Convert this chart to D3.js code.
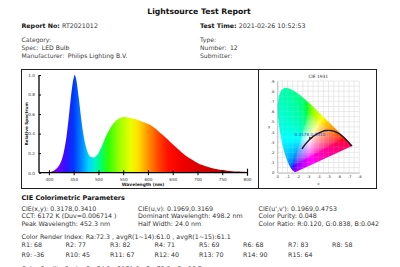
<!DOCTYPE html>
<html>
<head>
<meta charset="utf-8">
<script src="https://cdn.jsdelivr.net/npm/d3@7"></script>
<style>
  body { margin: 0; background: #fff; }
  svg { display: block; font-family: "DejaVu Sans", Verdana, sans-serif; }
</style>
</head>
<body>
<div id="chart"></div>
<script>
// header info
const headerLeft = [["Report No: ", "RT2021012", true], ["Category:", "", false], ["Spec: ", "LED Bulb", false], ["Manufacturer: ", "Philips Lighting B.V.", false]];
const headerRight = [["Test Time: ", "2021-02-26 10:52:53", true], ["Type:", "", false], ["Number: ", "12", false], ["Submitter:", "", false]];

// relative spectrum
const wavelengths = [380, 390, 400, 405, 410, 415, 420, 425, 430, 435, 440, 445, 450, 452, 455, 460, 465, 470, 475, 480, 485, 490, 495, 500, 505, 510, 515, 520, 525, 530, 535, 540, 545, 550, 555, 560, 570, 580, 590, 600, 610, 620, 630, 640, 650, 660, 670, 680, 690, 700, 710, 720, 730, 740, 750, 760, 770, 780, 790, 800];
const spectrum = [0.0, 0.0, 0.004, 0.01, 0.02, 0.04, 0.07, 0.12, 0.21, 0.35, 0.56, 0.8, 0.97, 1.0, 0.96, 0.78, 0.56, 0.38, 0.26, 0.19, 0.16, 0.155, 0.168, 0.2, 0.25, 0.31, 0.37, 0.42, 0.465, 0.5, 0.53, 0.55, 0.563, 0.57, 0.57, 0.566, 0.555, 0.54, 0.52, 0.5, 0.47, 0.43, 0.385, 0.34, 0.29, 0.245, 0.2, 0.16, 0.13, 0.1, 0.078, 0.06, 0.046, 0.035, 0.027, 0.02, 0.016, 0.012, 0.01, 0.008];
const xTicks = [400, 450, 500, 550, 600, 650, 700, 750, 800];
const yTicks = [0, 0.2, 0.4, 0.6, 0.8, 1.0];

// CIE 1931 spectral locus (x, y)
const locusX = [0.1741, 0.1714, 0.1644, 0.1566, 0.1440, 0.1241, 0.1096, 0.0913, 0.0687, 0.0454, 0.0235, 0.0082, 0.0039, 0.0139, 0.0389, 0.0743, 0.1142, 0.1547, 0.1929, 0.2296, 0.2658, 0.3016, 0.3373, 0.3731, 0.4087, 0.4441, 0.4788, 0.5125, 0.5448, 0.5752, 0.6029, 0.6270, 0.6658, 0.6915, 0.7079, 0.7190, 0.7260, 0.7347];
const locusY = [0.0050, 0.0051, 0.0109, 0.0177, 0.0297, 0.0578, 0.0868, 0.1327, 0.2007, 0.2950, 0.4127, 0.5384, 0.6548, 0.7502, 0.8120, 0.8338, 0.8262, 0.8059, 0.7816, 0.7543, 0.7243, 0.6923, 0.6589, 0.6245, 0.5896, 0.5547, 0.5202, 0.4866, 0.4544, 0.4242, 0.3965, 0.3725, 0.3340, 0.3083, 0.2920, 0.2809, 0.2740, 0.2653];
// blackbody curve as drawn
const planckX = [0.240, 0.255, 0.281, 0.313, 0.345, 0.380, 0.437, 0.477, 0.527, 0.586, 0.653, 0.726];
const planckY = [0.234, 0.255, 0.288, 0.324, 0.352, 0.377, 0.404, 0.414, 0.413, 0.393, 0.344, 0.262];
const samplePoint = [0.3178, 0.3410];
const cieTicksX = [0, 0.1, 0.2, 0.3, 0.4, 0.5, 0.6, 0.7, 0.8];
const cieTicksY = [0, 0.1, 0.2, 0.3, 0.4, 0.5, 0.6, 0.7, 0.8, 0.9];

// parameters
const paramRows = [
  ["CIE(x,y): 0.3178,0.3410", "CIE(u,v): 0.1969,0.3169", "CIE(u',v'): 0.1969,0.4753"],
  ["CCT: 6172 K (Duv=0.006714 )", "Dominant Wavelength: 498.2 nm", "Color Purity: 0.048"],
  ["Peak Wavelength: 452.3 nm", "Half Width: 24.0 nm", "Color Ratio: R:0.120, G:0.838, B:0.042"]
];
const criLine = "Color Render Index: Ra:72.3 , avgR(1~14):61.0 , avgR(1~15):61.1";
const rNames = ["R1", "R2", "R3", "R4", "R5", "R6", "R7", "R8", "R9", "R10", "R11", "R12", "R13", "R14", "R15"];
const rValues = [68, 77, 82, 71, 69, 68, 83, 58, -36, 45, 67, 40, 70, 90, 64];
const cqsLine = "Color Quality Scale: Qa:74.2 , Qf:71.0 , Qp:72.2 , Qg:96.7";

const width = 400, height = 267;
const svg = d3.select("#chart").append("svg")
  .attr("width", width).attr("height", height)
  .attr("viewBox", [0, 0, width, height]);

svg.append("rect").attr("width", width).attr("height", height).attr("fill", "#fff");

// ---------- header ----------
svg.append("text")
  .attr("x", 199).attr("y", 14)
  .attr("text-anchor", "middle")
  .attr("font-size", 7.7).attr("font-weight", "bold").attr("fill", "#111")
  .text("Lightsource Test Report");

const headerY = [28, 42, 50, 57.8];
function drawHeader(rows, x0) {
  rows.forEach((r, i) => {
    const t = svg.append("text").attr("x", x0).attr("y", headerY[i])
      .attr("font-size", i === 0 ? 6.3 : 6.1).attr("fill", i === 0 ? "#111" : "#444");
    t.append("tspan").attr("font-weight", r[2] ? "bold" : "normal").text(r[0]);
    t.append("tspan").attr("fill", "#333").attr("dx", r[2] ? 0 : 1.5).text(r[1]);
  });
}
drawHeader(headerLeft, 21.5);
drawHeader(headerRight, 200);

// ---------- chart box ----------
svg.append("rect").attr("x", 21.5).attr("y", 69.5).attr("width", 355).attr("height", 119)
  .attr("fill", "none").attr("stroke", "#222").attr("stroke-width", 1);
svg.append("line").attr("x1", 258.5).attr("x2", 258.5).attr("y1", 69.5).attr("y2", 188.5)
  .attr("stroke", "#222");

// ---------- spectrum ----------
const x = d3.scaleLinear([380, 800], [39, 247]);
const y = d3.scaleLinear([0, 1], [172.7, 75]);

const gradStops = [
  [380, "#400050"], [400, "#6a00a8"], [420, "#6a00ff"], [435, "#3010ff"], [450, "#0038ff"],
  [465, "#0080ff"], [480, "#00d4ff"], [492, "#00f0d0"], [505, "#00ff70"], [520, "#30ff00"],
  [545, "#a8ff00"], [565, "#eaff00"], [580, "#ffe000"], [598, "#ff9c00"], [620, "#ff4800"],
  [640, "#ff1000"], [670, "#f00000"], [720, "#d00000"], [800, "#900000"]
];
const defs = svg.append("defs");
const grad = defs.append("linearGradient").attr("id", "specGrad")
  .attr("gradientUnits", "userSpaceOnUse")
  .attr("x1", x(380)).attr("x2", x(800)).attr("y1", 0).attr("y2", 0);
grad.selectAll("stop").data(gradStops).enter().append("stop")
  .attr("offset", d => (d[0] - 380) / 420)
  .attr("stop-color", d => d[1]);

const specData = wavelengths.map((w, i) => [w, spectrum[i]]);
svg.append("path")
  .datum(specData)
  .attr("fill", "url(#specGrad)")
  .attr("d", d3.area().x(d => x(d[0])).y0(y(0)).y1(d => y(d[1])).curve(d3.curveMonotoneX));

const xAxis = svg.append("g").attr("transform", `translate(0,${y(0)})`)
  .call(d3.axisBottom(x).tickValues(xTicks).tickSize(2.5).tickPadding(2.5).tickFormat(d3.format("d")));
xAxis.select(".domain").attr("d", `M${x(380)},0H${x(800)}`).attr("stroke-width", 1.3);
xAxis.selectAll(".tick line").attr("y1", -2.5).attr("stroke-width", 1);
xAxis.selectAll(".tick text").attr("font-size", 4.2).attr("font-family", "DejaVu Sans").attr("fill", "#333");
xAxis.selectAll(".tick").filter(d => d === 800).select("line").attr("y1", -4).attr("y2", 3).attr("stroke-width", 1.2);

const yAxis = svg.append("g").attr("transform", `translate(${x(380)},0)`)
  .call(d3.axisLeft(y).tickValues(yTicks).tickSize(-2).tickPadding(4).tickFormat(d3.format(".1f")));
yAxis.select(".domain").attr("d", `M0,${y(1.0)}V${y(0)}`).attr("stroke-width", 1.3);
yAxis.selectAll(".tick text").attr("font-size", 4.2).attr("font-family", "DejaVu Sans").attr("fill", "#333");

svg.append("text")
  .attr("transform", `translate(27.5,${y(0.5)}) rotate(-90)`)
  .attr("text-anchor", "middle")
  .attr("font-size", 4.2).attr("font-weight", "bold").attr("fill", "#222")
  .text("Relative Spectrum");
svg.append("text")
  .attr("x", x(590)).attr("y", 185.5)
  .attr("text-anchor", "middle")
  .attr("font-size", 4.4).attr("font-weight", "bold").attr("fill", "#222")
  .text("Wavelength (nm)");

// ---------- CIE 1931 ----------
const cx = d3.scaleLinear([0, 0.8], [277.3, 359.3]);
const cy = d3.scaleLinear([0, 0.9], [172.7, 81]);

svg.append("text").attr("x", cx(0.4)).attr("y", 77.5)
  .attr("text-anchor", "middle").attr("font-size", 4.4).attr("fill", "#333")
  .text("CIE 1931");

const grid = svg.append("g").attr("stroke", "#d6d6d6").attr("stroke-width", 0.5);
grid.selectAll("line.v").data(d3.range(0, 0.8001, 0.05)).enter().append("line")
  .attr("x1", d => cx(d)).attr("x2", d => cx(d)).attr("y1", cy(0)).attr("y2", cy(0.9));
grid.selectAll("line.h").data(d3.range(0, 0.9001, 0.05)).enter().append("line")
  .attr("y1", d => cy(d)).attr("y2", d => cy(d)).attr("x1", cx(0)).attr("x2", cx(0.8));

// chromaticity fill, rendered on a canvas and clipped to the horseshoe
const locus = locusX.map((v, i) => [v, locusY[i]]);
defs.append("clipPath").attr("id", "horseshoe")
  .append("path")
  .attr("d", d3.line().x(d => cx(d[0])).y(d => cy(d[1]))(locus) + "Z");

const px0 = Math.floor(cx(0)), px1 = Math.ceil(cx(0.8));
const py0 = Math.floor(cy(0.9)), py1 = Math.ceil(cy(0));
const scaleUp = 3;
const cw = (px1 - px0) * scaleUp, ch = (py1 - py0) * scaleUp;
const canvas = document.createElement("canvas");
canvas.width = cw; canvas.height = ch;
const ctx = canvas.getContext("2d");
const img = ctx.createImageData(cw, ch);
function gam(c) { return c <= 0.0031308 ? 12.92 * c : 1.055 * Math.pow(c, 1 / 2.4) - 0.055; }
for (let j = 0; j < ch; j++) {
  for (let i = 0; i < cw; i++) {
    const xx = cx.invert(px0 + (i + 0.5) / scaleUp);
    const yy = Math.max(0.001, cy.invert(py0 + (j + 0.5) / scaleUp));
    const X = xx / yy, Y = 1, Z = (1 - xx - yy) / yy;
    let r = 3.2406 * X - 1.5372 * Y - 0.4986 * Z;
    let g = -0.9689 * X + 1.8758 * Y + 0.0415 * Z;
    let b = 0.0557 * X - 0.2040 * Y + 1.0570 * Z;
    const m = Math.min(r, g, b);
    if (m < 0) { r -= m; g -= m; b -= m; }
    const M = Math.max(r, g, b);
    r /= M; g /= M; b /= M;
    const k = (j * cw + i) * 4;
    img.data[k] = 255 * gam(r);
    img.data[k + 1] = 255 * gam(g);
    img.data[k + 2] = 255 * gam(b);
    img.data[k + 3] = 255;
  }
}
ctx.putImageData(img, 0, 0);
svg.append("image")
  .attr("href", canvas.toDataURL())
  .attr("x", px0).attr("y", py0)
  .attr("width", px1 - px0).attr("height", py1 - py0)
  .attr("preserveAspectRatio", "none")
  .attr("clip-path", "url(#horseshoe)");

// faint grid over the colours
const grid2 = svg.append("g").attr("stroke", "#fff").attr("stroke-opacity", 0.18).attr("stroke-width", 0.5)
  .attr("clip-path", "url(#horseshoe)");
grid2.selectAll("line.v").data(d3.range(0, 0.8001, 0.05)).enter().append("line")
  .attr("x1", d => cx(d)).attr("x2", d => cx(d)).attr("y1", cy(0)).attr("y2", cy(0.9));
grid2.selectAll("line.h").data(d3.range(0, 0.9001, 0.05)).enter().append("line")
  .attr("y1", d => cy(d)).attr("y2", d => cy(d)).attr("x1", cx(0)).attr("x2", cx(0.8));

const tickFmt = d => d === 0 ? "0" : d3.format(".1f")(d).replace(/^0/, "");
const cxAxis = svg.append("g").attr("transform", `translate(0,${cy(0)})`)
  .call(d3.axisBottom(cx).tickValues(cieTicksX).tickSize(0).tickPadding(3).tickFormat(tickFmt));
const cyAxis = svg.append("g").attr("transform", `translate(${cx(0)},0)`)
  .call(d3.axisLeft(cy).tickValues(cieTicksY).tickSize(0).tickPadding(3).tickFormat(tickFmt));
[cxAxis, cyAxis].forEach(a => {
  a.select(".domain").attr("stroke", "#999").attr("stroke-width", 0.6);
  a.selectAll(".tick text").attr("font-size", 3.8).attr("font-family", "DejaVu Sans").attr("fill", "#333");
});
svg.append("text").attr("x", cx(0.4)).attr("y", 184.5).attr("text-anchor", "middle")
  .attr("font-size", 3.8).attr("fill", "#333").text("x");
svg.append("text").attr("x", 269).attr("y", cy(0.44)).attr("text-anchor", "middle")
  .attr("font-size", 3.8).attr("fill", "#333").text("y");

svg.append("path")
  .datum(planckX.map((v, i) => [v, planckY[i]]))
  .attr("fill", "none").attr("stroke", "#1a1a1a").attr("stroke-width", 1.4)
  .attr("d", d3.line().x(d => cx(d[0])).y(d => cy(d[1])).curve(d3.curveCatmullRom));

svg.append("circle").attr("cx", cx(samplePoint[0])).attr("cy", cy(samplePoint[1]))
  .attr("r", 0.9).attr("fill", "#1a1a1a");
svg.append("text").attr("x", cx(samplePoint[0])).attr("y", cy(samplePoint[1]) - 1.8)
  .attr("text-anchor", "middle").attr("font-size", 4.2).attr("fill", "#2a3fd8")
  .text(samplePoint[0].toFixed(4) + "," + samplePoint[1].toFixed(4));

// ---------- parameters ----------
const bodySize = 6.3;
svg.append("text").attr("x", 21.5).attr("y", 199.5)
  .attr("font-size", 6.5).attr("font-weight", "bold").attr("fill", "#111")
  .text("CIE Colorimetric Parameters");

const colX = [21.5, 138, 258.5];
const rowY = [210.5, 218, 225.5];
paramRows.forEach((row, ri) => {
  row.forEach((s, ci) => {
    svg.append("text").attr("x", colX[ci]).attr("y", rowY[ri])
      .attr("font-size", bodySize).attr("fill", "#333").text(s);
  });
});
svg.append("text").attr("x", 21.5).attr("y", 239)
  .attr("font-size", bodySize).attr("fill", "#333").text(criLine);

const rColX = [21.5, 65.5, 110, 154.5, 199, 243, 288, 332];
const rRowY = [247.2, 256.5];
rNames.forEach((n, i) => {
  svg.append("text")
    .attr("x", rColX[i % 8]).attr("y", rRowY[Math.floor(i / 8)])
    .attr("font-size", bodySize).attr("fill", "#333")
    .text(n + ": " + rValues[i]);
});
svg.append("text").attr("x", 21.5).attr("y", 270.5)
  .attr("font-size", bodySize).attr("fill", "#333").text(cqsLine);
</script>
</body>
</html>
